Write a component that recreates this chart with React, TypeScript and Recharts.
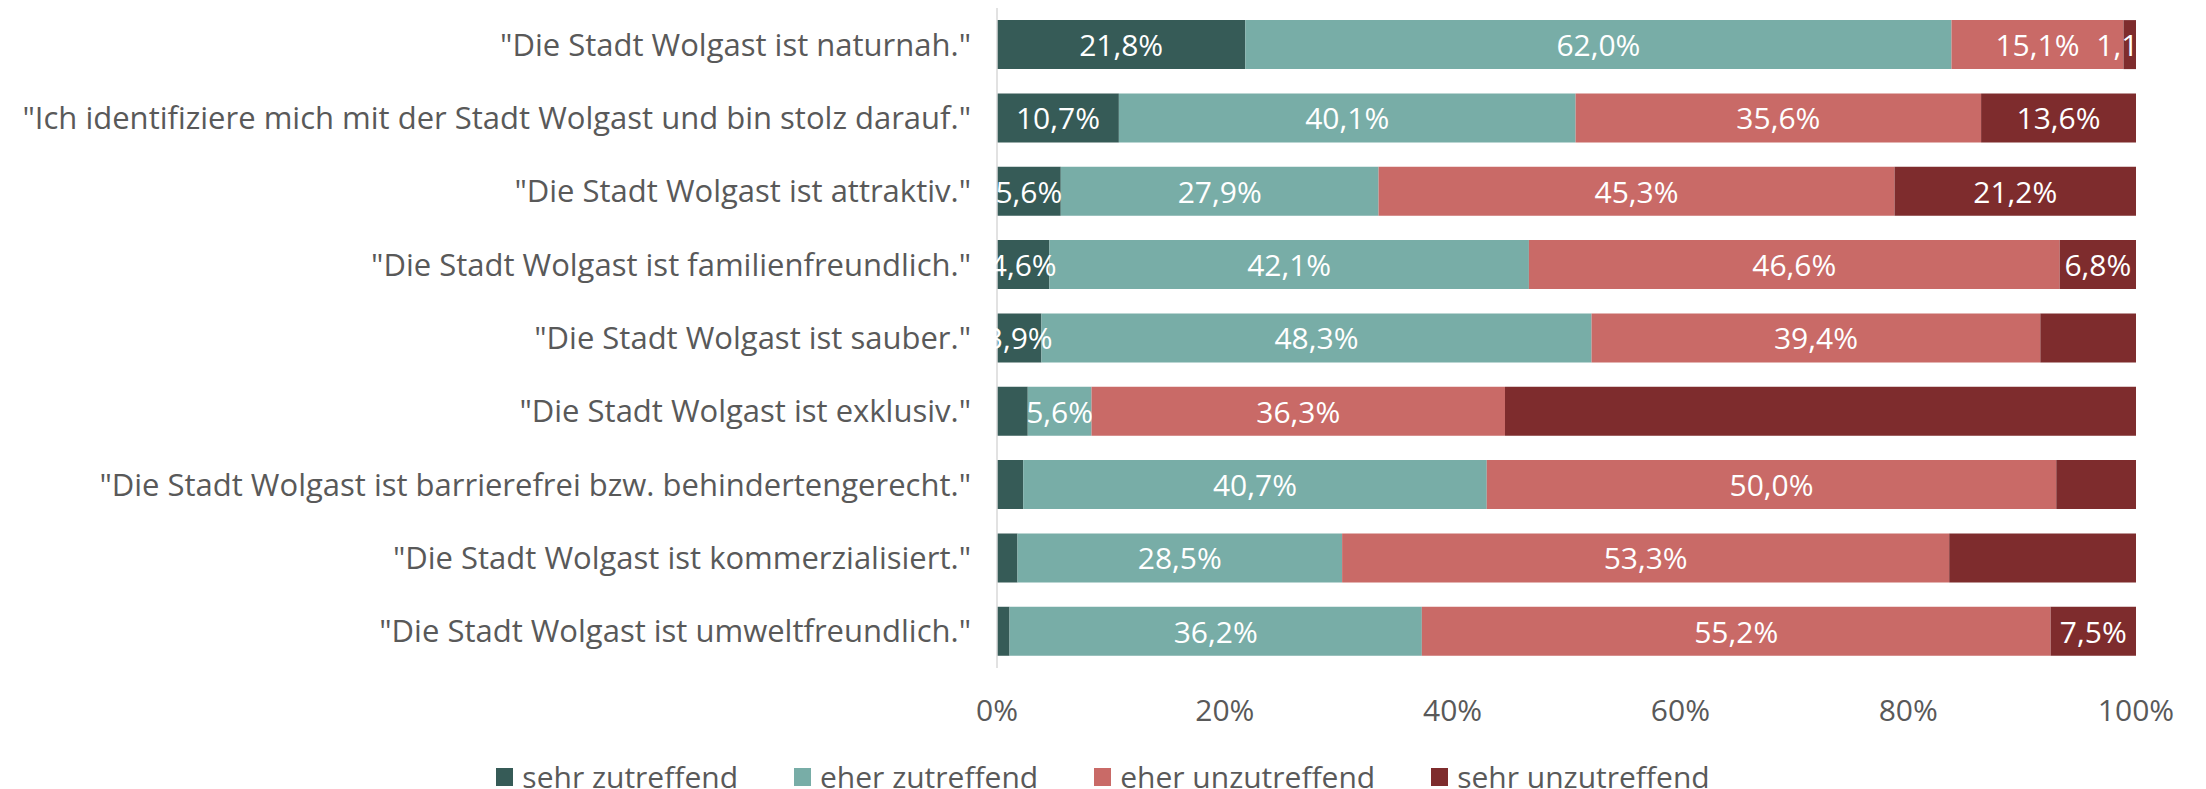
import React from 'react';
import { BarChart, Bar, XAxis, YAxis, Legend, LabelList } from 'recharts';

const categories = [
  '"Die Stadt Wolgast ist naturnah."',
  '"Ich identifiziere mich mit der Stadt Wolgast und bin stolz darauf."',
  '"Die Stadt Wolgast ist attraktiv."',
  '"Die Stadt Wolgast ist familienfreundlich."',
  '"Die Stadt Wolgast ist sauber."',
  '"Die Stadt Wolgast ist exklusiv."',
  '"Die Stadt Wolgast ist barrierefrei bzw. behindertengerecht."',
  '"Die Stadt Wolgast ist kommerzialisiert."',
  '"Die Stadt Wolgast ist umweltfreundlich."',
];

const sehrZutreffend = [21.8, 10.7, 5.6, 4.6, 3.9, 2.7, 2.3, 1.8, 1.1];
const eherZutreffend = [62.0, 40.1, 27.9, 42.1, 48.3, 5.6, 40.7, 28.5, 36.2];
const eherUnzutreffend = [15.1, 35.6, 45.3, 46.6, 39.4, 36.3, 50.0, 53.3, 55.2];
const sehrUnzutreffend = [1.1, 13.6, 21.2, 6.8, 8.4, 55.4, 7.0, 16.4, 7.5];

const sehrZutreffendShown = [true, true, true, true, true, false, false, false, false];
const eherZutreffendShown = [true, true, true, true, true, true, true, true, true];
const eherUnzutreffendShown = [true, true, true, true, true, true, true, true, true];
const sehrUnzutreffendShown = [true, true, true, true, false, false, false, false, true];

const xTicks = [0, 20, 40, 60, 80, 100];

const seriesNames = ['sehr zutreffend', 'eher zutreffend', 'eher unzutreffend', 'sehr unzutreffend'];
const seriesColors = ['#365B57', '#78ADA7', '#C96A67', '#7E2C2D'];

const data = categories.map((name, i) => ({
  name,
  s1: sehrZutreffend[i],
  s2: eherZutreffend[i],
  s3: eherUnzutreffend[i],
  s4: sehrUnzutreffend[i],
}));

const FONT = '"Open Sans", "Noto Sans", sans-serif';
const TEXT_GRAY = '#595959';
const FS = 30;

const makeLabel = (shown: boolean[], clipRight: boolean, key: string) => (props: any) => {
  const vb = props.viewBox || props;
  const x = vb.x ?? props.x;
  const y = vb.y ?? props.y;
  const width = vb.width ?? props.width;
  const height = vb.height ?? props.height;
  const index = props.index;
  const value = props.value;
  if (index == null || !shown[index] || value == null) return null;
  const cx = x + width / 2;
  const cy = y + height / 2;
  const text = Number(value).toFixed(1).replace('.', ',') + '%';
  const clipId = `clip-${key}-${index}`;
  return (
    <g>
      {clipRight && (
        <defs>
          <clipPath id={clipId}>
            <rect x={x - 500} y={y - 20} width={width + 500} height={height + 40} />
          </clipPath>
        </defs>
      )}
      <text
        x={cx}
        y={cy}
        textAnchor="middle"
        dominantBaseline="central"
        fill="#ffffff"
        fontSize={FS}
        fontFamily={FONT}
        clipPath={clipRight ? `url(#${clipId})` : undefined}
      >
        {text}
      </text>
    </g>
  );
};

const LegendContent = () => (
  <div
    style={{
      display: 'flex',
      justifyContent: 'center',
      alignItems: 'center',
      height: 40,
      width: 2206,
      fontFamily: FONT,
      fontSize: FS,
      color: TEXT_GRAY,
      gap: 56,
    }}
  >
    {seriesNames.map((n, i) => (
      <div key={n} style={{ display: 'flex', alignItems: 'center', whiteSpace: 'nowrap' }}>
        <span style={{ display: 'inline-block', width: 17, height: 18, background: seriesColors[i], marginRight: 9 }} />
        <span style={{ lineHeight: '40px' }}>{n}</span>
      </div>
    ))}
  </div>
);

export default function App() {
  return (
    <div style={{ position: 'absolute', left: 0, top: 0, width: 2206, height: 789, background: '#fff' }}>
      <BarChart
        width={2206}
        height={789}
        data={data}
        layout="vertical"
        margin={{ top: 8, right: 70, bottom: 0, left: 0 }}
        barCategoryGap="16.5%"
      >
        <XAxis
          type="number"
          domain={[0, 100]}
          ticks={xTicks}
          allowDataOverflow
          tickFormatter={(v: number) => `${v}%`}
          axisLine={false}
          tickLine={false}
          height={81}
          tickMargin={26}
          tick={{ fill: TEXT_GRAY, fontSize: FS, fontFamily: FONT }}
        />
        <YAxis
          type="category"
          dataKey="name"
          width={997}
          interval={0}
          axisLine={{ stroke: '#D9D9D9', strokeWidth: 1.5 }}
          tickLine={false}
          tickMargin={20}
          tick={{ fill: TEXT_GRAY, fontSize: 31, fontFamily: FONT }}
        />
        <Legend verticalAlign="bottom" content={<LegendContent />} wrapperStyle={{ left: 0, width: 2206, bottom: -8 }} />
        <Bar dataKey="s1" name={seriesNames[0]} stackId="a" fill={seriesColors[0]} isAnimationActive={false}>
          <LabelList dataKey="s1" content={makeLabel(sehrZutreffendShown, false, 's1')} />
        </Bar>
        <Bar dataKey="s2" name={seriesNames[1]} stackId="a" fill={seriesColors[1]} isAnimationActive={false}>
          <LabelList dataKey="s2" content={makeLabel(eherZutreffendShown, false, 's2')} />
        </Bar>
        <Bar dataKey="s3" name={seriesNames[2]} stackId="a" fill={seriesColors[2]} isAnimationActive={false}>
          <LabelList dataKey="s3" content={makeLabel(eherUnzutreffendShown, false, 's3')} />
        </Bar>
        <Bar dataKey="s4" name={seriesNames[3]} stackId="a" fill={seriesColors[3]} isAnimationActive={false}>
          <LabelList dataKey="s4" content={makeLabel(sehrUnzutreffendShown, true, 's4')} />
        </Bar>
      </BarChart>
    </div>
  );
}
